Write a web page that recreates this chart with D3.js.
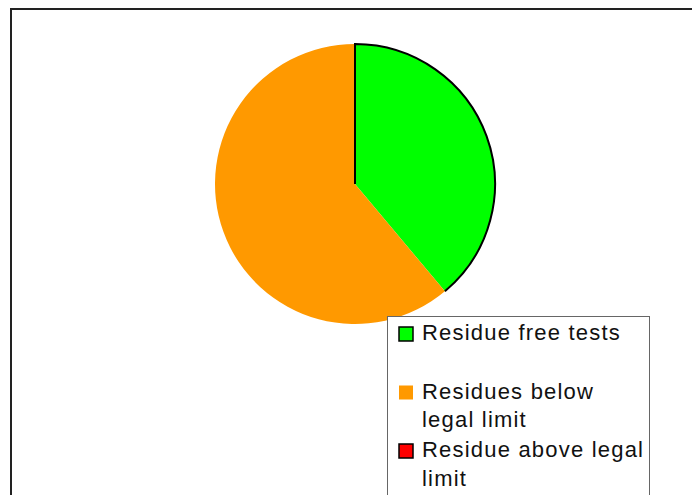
<!DOCTYPE html>
<html>
<head>
<meta charset="utf-8">
<script src="https://cdn.jsdelivr.net/npm/d3@7"></script>
<style>
  body { margin: 0; background: #fff; }
  text { font-family: 'Liberation Sans', Arial, sans-serif; }
</style>
</head>
<body>
<svg width="692" height="495"></svg>
<script>
// slices, in drawing order (clockwise from 12 o'clock)
var labels = ['Residue free tests', 'Residues below legal limit', 'Residue above legal limit'];
var values = [38.9, 61.1, 0];
var colors = ['#00ff00', '#ff9900', '#ff0000'];
var outlined = [true, false, true];

var svg = d3.select('svg');
var cx = 355, cy = 184, radius = 140;

// chart frame (runs off the right and bottom of the picture)
svg.append('path')
  .attr('d', 'M11,500 L11,9 L700,9')
  .attr('fill', 'none')
  .attr('stroke', '#222')
  .attr('stroke-width', 2);

var pie = d3.pie().sort(null).value(function(d) { return d; });
var arc = d3.arc().innerRadius(0).outerRadius(radius);
var slices = pie(values);

var g = svg.append('g').attr('transform', 'translate(' + cx + ',' + cy + ')');

g.selectAll('path.slice')
  .data(slices)
  .enter()
  .append('path')
  .attr('class', 'slice')
  .attr('d', arc)
  .attr('fill', function(d, i) { return colors[i]; });

// black edge on the green slice: the outer arc and the 12 o'clock radius
var first = slices[0];
var edge = d3.path();
edge.moveTo(0, 0);
edge.lineTo(0, -radius);
edge.arc(0, 0, radius, -Math.PI / 2, first.endAngle - Math.PI / 2);
g.append('path')
  .attr('d', edge.toString())
  .attr('fill', 'none')
  .attr('stroke', '#000')
  .attr('stroke-width', 2);

// legend
var legend = svg.append('g');
legend.append('rect')
  .attr('x', 387.5).attr('y', 316.5)
  .attr('width', 262).attr('height', 200)
  .attr('fill', '#fff')
  .attr('stroke', '#666')
  .attr('stroke-width', 1);

var rowY = d3.scaleLinear().domain([0, 1]).range([340, 398.5]);
var maxWidth = 225;

labels.forEach(function(label, i) {
  var y = rowY(i);
  legend.append('rect')
    .attr('x', 399).attr('y', y - 13)
    .attr('width', 14).attr('height', 14)
    .attr('fill', colors[i])
    .attr('stroke', outlined[i] ? '#000' : 'none')
    .attr('stroke-width', 1.5);

  var text = legend.append('text')
    .attr('x', 422).attr('y', y)
    .attr('font-size', 22)
    .attr('letter-spacing', 1.2)
    .attr('fill', '#111');

  // wrap words inside the legend box
  var words = label.split(' ');
  var line = [];
  var lineNo = 0;
  var tspan = text.append('tspan').attr('x', 422).attr('y', y);
  words.forEach(function(w) {
    line.push(w);
    tspan.text(line.join(' '));
    if (tspan.node().getComputedTextLength() > maxWidth && line.length > 1) {
      line.pop();
      tspan.text(line.join(' '));
      line = [w];
      lineNo++;
      tspan = text.append('tspan').attr('x', 422).attr('y', y + lineNo * 28.7).text(w);
    }
  });
});
</script>
</body>
</html>
